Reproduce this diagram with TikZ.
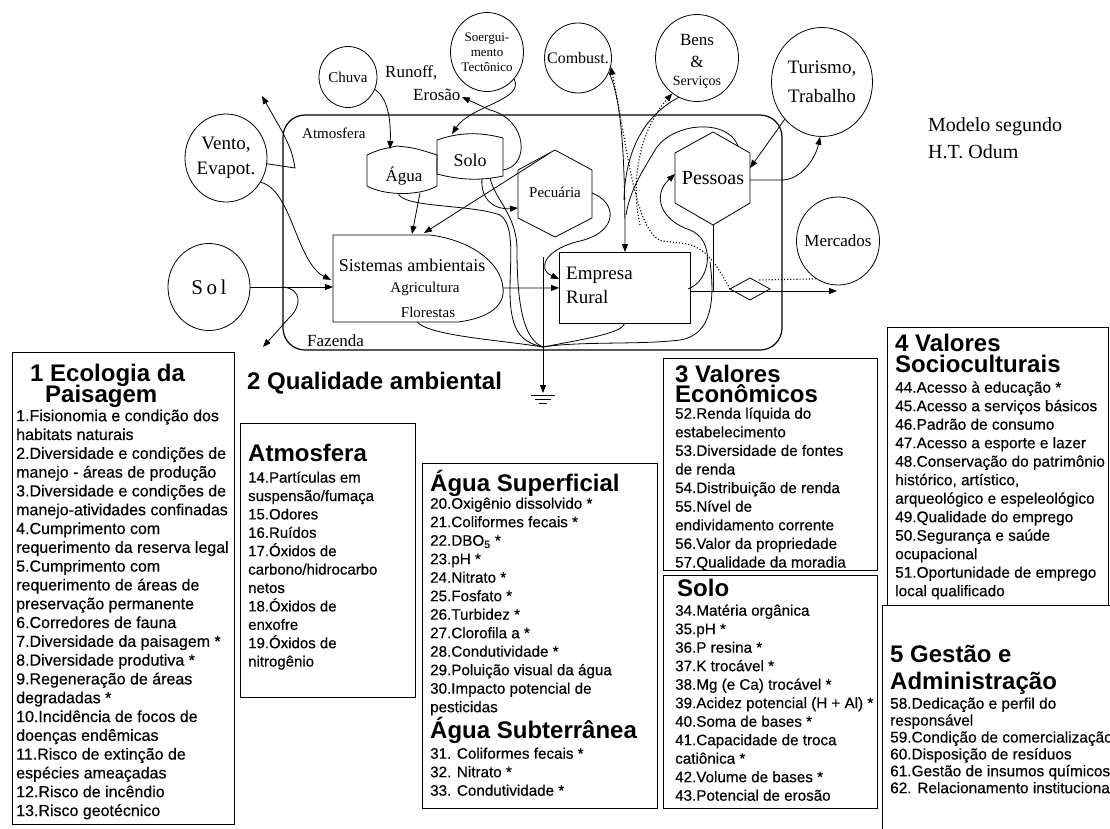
\documentclass[tikz,border=0pt]{standalone}
\usepackage{fontspec}
\setmainfont{Liberation Serif}
\newfontfamily\ar{Liberation Sans}
\newfontfamily\ari[FakeBold=0.4]{Liberation Sans}
\usetikzlibrary{arrows.meta,shapes.geometric}
\newcommand\fsz[2]{\fontsize{#1}{#2}\selectfont}
\newcommand\tp{\rule{0pt}{1em}}
\tikzset{
  ln/.style={line width=0.8pt},
  fl/.style={ln,-{Triangle[length=8pt,width=6pt]}},
  money/.style={line width=1.1pt,dotted},
  moneyarr/.style={money,-{Triangle[length=8pt,width=6pt]}},
  src/.style={draw,ellipse,ln,inner sep=0pt},
  lbl/.style={inner sep=0pt,align=center},
  ttl/.style={anchor=base west,inner sep=0pt,font=\ar\bfseries\fsz{24}{22}},
  itm/.style={anchor=north west,inner sep=0pt,align=left},
  frm/.style={draw,line width=1pt},
}
\begin{document}
\begin{tikzpicture}[x=1pt,y=-1pt]
\useasboundingbox[fill=white] (0,0) rectangle (1110,828);

% ---------------- top diagram ----------------
\draw[line width=1.2pt,rounded corners=22] (283,115) rectangle (782,350);
\node[anchor=west,inner sep=0pt,font=\fsz{15}{15}] (atmT) at (302,133) {Atmosfera};
\node[anchor=west,inner sep=0pt,font=\fsz{17}{17}] (fazT) at (307,341) {Fazenda};

% sources
\node[src,minimum width=82,minimum height=87] (sol) at (209,287) {};
\node[lbl,font=\fsz{21}{21}] (solT) at (sol) {S\,o\,l};
\node[src,minimum width=82,minimum height=88] (vento) at (226,158) {};
\node[lbl,font=\fsz{19}{25}] (ventoT) at (vento) {Vento,\\Evapot.};
\node[src,minimum width=58,minimum height=61] (chuva) at (348,77) {};
\node[lbl,font=\fsz{15}{15}] (chuvaT) at (chuva) {Chuva};
\node[src,minimum width=73,minimum height=79] (soerg) at (487,52) {};
\node[lbl,font=\fsz{13}{15}] (soergT) at (soerg) {Soergui-\\mento\\Tectônico};
\node[src,minimum width=67,minimum height=70] (comb) at (578,58) {};
\node[lbl,font=\fsz{16}{16}] (combT) at (comb) {Combust.};
\node[src,minimum width=83,minimum height=87] (bens) at (697,58) {};
\node[lbl,font=\fsz{17}{17}] (bensT1) at (697,40) {Bens};
\node[lbl,font=\fsz{17}{17}] (bensT2) at (697,62) {\&};
\node[lbl,font=\fsz{14}{14}] (bensT3) at (697,82) {Serviços};
\node[src,minimum width=101,minimum height=109] (tur) at (822,82) {};
\node[lbl,font=\fsz{19}{29}] (turT) at (tur) {Turismo,\\Trabalho};
\node[src,minimum width=83,minimum height=88] (mer) at (838,241) {};
\node[lbl,font=\fsz{17}{17}] (merT) at (mer) {Mercados};

\node[anchor=west,inner sep=0pt,font=\fsz{17}{17}] (runT) at (385,73) {Runoff,};
\node[anchor=west,inner sep=0pt,font=\fsz{17}{17}] (eroT) at (413,95) {Erosão};
\node[anchor=west,align=left,inner sep=0pt,font=\fsz{20}{27}] (odumT) at (928,138) {Modelo segundo\\H.T. Odum};

% storages
\draw[ln] (367,155) .. controls (378,150) .. (397,146) .. controls (415,148) .. (437,155) -- (437,186) .. controls (420,196) and (385,196) .. (367,186) -- cycle;
\node[lbl,font=\fsz{17}{17}] (aguaT) at (404,176) {Água};
\draw[ln] (437,140) .. controls (460,132) and (480,132) .. (503,138) -- (503,176) .. controls (480,181) and (460,180) .. (437,174) -- cycle;
\node[lbl,font=\fsz{18}{18}] (soloT) at (470,160) {Solo};

% consumers
\draw[ln] (555,150) -- (592,170) -- (592,218) -- (555,237) -- (518,218) -- (518,170) -- cycle;
\node[lbl,font=\fsz{15}{15}] (pecT) at (555,192) {Pecuária};
\draw[ln] (713,132) -- (750,153) -- (750,203) -- (713,225) -- (675,203) -- (675,153) -- cycle;
\node[lbl,font=\fsz{20}{20}] (pesT) at (713,178) {Pessoas};

% producer
\draw[ln] (430,235) -- (333,235) -- (333,322) -- (458,322) .. controls (490,318) and (505,305) .. (503,288) .. controls (501,262) and (470,240) .. (430,235);
\node[lbl,font=\fsz{18}{18}] (sisT) at (412,265) {Sistemas ambientais};
\node[lbl,font=\fsz{15}{15}] (agrT) at (425,289) {Agricultura};
\node[lbl,font=\fsz{15}{15}] (floT) at (428,312) {Florestas};

% Empresa
\node[draw,ln,minimum width=131,minimum height=71,inner sep=0pt,anchor=north west] (emp) at (559,252) {};
\node[anchor=west,align=left,inner sep=0pt,font=\fsz{19}{24}] (empT) at (566,285) {Empresa\\Rural};

% diamond
\draw[ln] (730,289) -- (750,278) -- (770,289) -- (750,300) -- cycle;

% coordinates
\coordinate (gnd) at (543,347);
\coordinate (sisW) at (333,287);
\coordinate (sisW2) at (331,280);
\coordinate (sisE) at (503,288);
\coordinate (solj) at (283,287);
\coordinate (atmOut) at (262,96);
\coordinate (fazOut) at (263,347);
\coordinate (aguaN) at (390,149);
\coordinate (aguaS) at (420,193);
\coordinate (aguaSW) at (398,193);
\coordinate (sisN1) at (412,234);
\coordinate (sisN2) at (424,233);
\coordinate (soloN) at (452,134);
\coordinate (soloE) at (503,170);
\coordinate (soloS1) at (482,178);
\coordinate (soloS2) at (490,178);
\coordinate (pecNW) at (550,153);
\coordinate (pecW) at (518,208);
\coordinate (pecE) at (592,193);
\coordinate (empW2) at (559,279);
\coordinate (empN) at (625,252);
\coordinate (empE) at (690,291);
\coordinate (empER) at (688,289);
\coordinate (empS) at (625,323);
\coordinate (sisS) at (417,322);
\coordinate (outR) at (837,291);
\coordinate (pesS) at (713,225);
\coordinate (pesE) at (750,180);
\coordinate (pesW) at (675,174);
\coordinate (pesNE) at (738,146);
\coordinate (pesR) at (750,168);
\coordinate (diaL) at (730,289);
\coordinate (diaT) at (758,280);
\coordinate (grd) at (543,393);

% flows
\draw[fl] (sol.east) -- (sisW);
\draw[fl] (solj) .. controls (302,289) and (302,306) .. (289,318) -- (fazOut);
\draw[fl] (vento.-8) -- (295,168) .. controls (292,152) .. (283,133) -- (atmOut);
\draw[fl] (vento.-35) .. controls (292,190) and (296,262) .. (sisW2);
\draw[fl] (chuva.-25) .. controls (388,98) and (391,120) .. (aguaN);
\draw[fl] (soerg.-45) .. controls (525,100) and (470,106) .. (soloN);
\draw[fl] (soloE) .. controls (530,166) and (528,120) .. (490,110) -- (462,97);
\draw[fl] (aguaS) -- (sisN1);
\draw[fl] (pecNW) -- (sisN2);
\draw[fl] (soloS1) .. controls (480,200) and (495,210) .. (pecW);
\draw[ln] (aguaSW) .. controls (402,208) and (470,204) .. (500,215) .. controls (515,225) and (510,260) .. (510,290) .. controls (510,330) and (520,342) .. (gnd);
\draw[ln] (soloS2) .. controls (495,200) and (517,215) .. (517,250) .. controls (517,310) and (525,340) .. (gnd);
\draw[fl] (sisE) -- (emp.west);
\draw[fl] (pecE) .. controls (618,203) and (618,232) .. (580,241) .. controls (548,248) and (535,268) .. (empW2);
\draw[ln] (543,257) -- (gnd);
\draw[fl] (comb.-25) .. controls (622,100) and (625,160) .. (empN);
\draw[ln] (bens.-115) .. controls (645,115) and (625,150) .. (624,200);
\draw[ln] (pesNE) .. controls (728,118) and (672,122) .. (655,150) .. controls (642,172) and (630,190) .. (626,215);
\draw[moneyarr] (diaL) .. controls (715,262) and (705,245) .. (680,243) -- (662,241) .. controls (635,232) and (628,150) .. (comb.-15);
\draw[moneyarr] (640,225) .. controls (630,180) and (640,130) .. (bens.-125);
\draw[money] (mer.-120) -- (diaT);
\draw[fl] (empE) -- (outR);
\draw[ln] (pesS) -- (713,291);
\draw[fl] (pesE) -- (782,180) .. controls (800,180) and (815,160) .. (tur.-92);
\draw[fl] (tur.-135) -- (pesR);
\draw[fl] (empER) .. controls (712,280) and (715,240) .. (690,230) .. controls (660,220) and (652,195) .. (pesW);
\draw[ln] (710,262) .. controls (715,300) and (712,335) .. (680,340) .. controls (640,345) and (580,341) .. (gnd);
\draw[ln] (empS) .. controls (622,333) and (590,338) .. (gnd);
\draw[ln] (sisS) .. controls (430,336) and (500,340) .. (gnd);
\draw[fl] (gnd) -- (grd);
\draw[ln] (531,395) -- (555,395);
\draw[ln] (535,399) -- (551,399);
\draw[ln] (539,403) -- (547,403);

% ---------------- text boxes ----------------
% box 1
\draw[frm] (12,352) rectangle (234,824);
\node[ttl] (t1a) at (30,381) {1 Ecologia da};
\node[ttl] (t1b) at (45,402) {Paisagem};
\node[itm,font=\ari\fsz{16}{18.8}] (b1) at (16,405) {\tp1.Fisionomia e condição dos\\habitats naturais\\2.Diversidade e condições de\\manejo - áreas de produção\\3.Diversidade e condições de\\manejo-atividades confinadas\\4.Cumprimento com\\requerimento da reserva legal\\5.Cumprimento com\\requerimento de áreas de\\preservação permanente\\6.Corredores de fauna\\7.Diversidade da paisagem *\\8.Diversidade produtiva *\\9.Regeneração de áreas\\degradadas *\\10.Incidência de focos de\\doenças endêmicas\\11.Risco de extinção de\\espécies ameaçadas\\12.Risco de incêndio\\13.Risco geotécnico};

% heading 2
\node[ttl] (t2) at (247,389) {2 Qualidade ambiental};

% box 2 Atmosfera
\draw[frm] (240,423) rectangle (415,697);
\node[ttl] (t2a) at (248,461.5) {Atmosfera};
\node[itm,font=\ari\fsz{15}{18.4}] (b2) at (248,467.4) {\tp14.Partículas em\\suspensão/fumaça\\15.Odores\\16.Ruídos\\17.Óxidos de\\carbono/hidrocarbo\\netos\\18.Óxidos de\\enxofre\\19.Óxidos de\\nitrogênio};

% box 3 Agua
\draw[frm] (422,463) rectangle (657,808);
\node[ttl] (t3a) at (430,491.5) {Água Superficial};
\node[itm,font=\ari\fsz{15.2}{18.5}] (b3) at (430,493.3) {\tp20.Oxigênio dissolvido *\\21.Coliformes fecais *\\22.DBO\textsubscript{5} *\\23.pH *\\24.Nitrato *\\25.Fosfato *\\26.Turbidez *\\27.Clorofila a *\\28.Condutividade *\\29.Poluição visual da água\\30.Impacto potencial de\\pesticidas};
\node[ttl] (t3b) at (430,738.5) {Água Subterrânea};
\node[itm,font=\ari\fsz{15.2}{18.5}] (b3b) at (430,743.3) {\tp31. Coliformes fecais *\\32. Nitrato *\\33. Condutividade *};

% box 4 econ
\draw[frm] (663,358) rectangle (877,570);
\node[ttl] (t4a) at (675,382) {3 Valores};
\node[ttl] (t4b) at (675,402) {Econômicos};
\node[itm,font=\ari\fsz{15.2}{18.6}] (b4) at (675,403.3) {\tp52.Renda líquida do\\estabelecimento\\53.Diversidade de fontes\\de renda\\54.Distribuição de renda\\55.Nível de\\endividamento corrente\\56.Valor da propriedade\\57.Qualidade da moradia};

% box 5 solo
\draw[frm] (663,575) rectangle (877,808);
\node[ttl] (t5) at (677,596) {Solo};
\node[itm,font=\ari\fsz{15.2}{18.5}] (b5) at (675,600.3) {\tp34.Matéria orgânica\\35.pH *\\36.P resina *\\37.K trocável *\\38.Mg (e Ca) trocável *\\39.Acidez potencial (H + Al) *\\40.Soma de bases *\\41.Capacidade de troca\\catiônica *\\42.Volume de bases *\\43.Potencial de erosão};

% box 6 socio
\draw[frm] (887,327) rectangle (1108,605);
\node[ttl] (t6a) at (895,351) {4 Valores};
\node[ttl] (t6b) at (895,372) {Socioculturais};
\node[itm,font=\ari\fsz{15.4}{18.5}] (b6) at (895,377.1) {\tp44.Acesso à educação *\\45.Acesso a serviços básicos\\46.Padrão de consumo\\47.Acesso a esporte e lazer\\48.Conservação do patrimônio\\histórico, artístico,\\arqueológico e espeleológico\\49.Qualidade do emprego\\50.Segurança e saúde\\ocupacional\\51.Oportunidade de emprego\\local qualificado};

% box 7 gestao
\draw[frm] (882,830) -- (882,605) -- (1115,605);
\node[ttl] (t7a) at (890,662) {5 Gestão e};
\node[ttl] (t7b) at (890,689) {Administração};
\node[itm,font=\ari\fsz{15.4}{16.9}] (b7) at (890,693.1) {\tp58.Dedicação e perfil do\\responsável\\59.Condição de comercialização\\60.Disposição de resíduos\\61.Gestão de insumos químicos\\62. Relacionamento institucional};
\end{tikzpicture}
\end{document}
